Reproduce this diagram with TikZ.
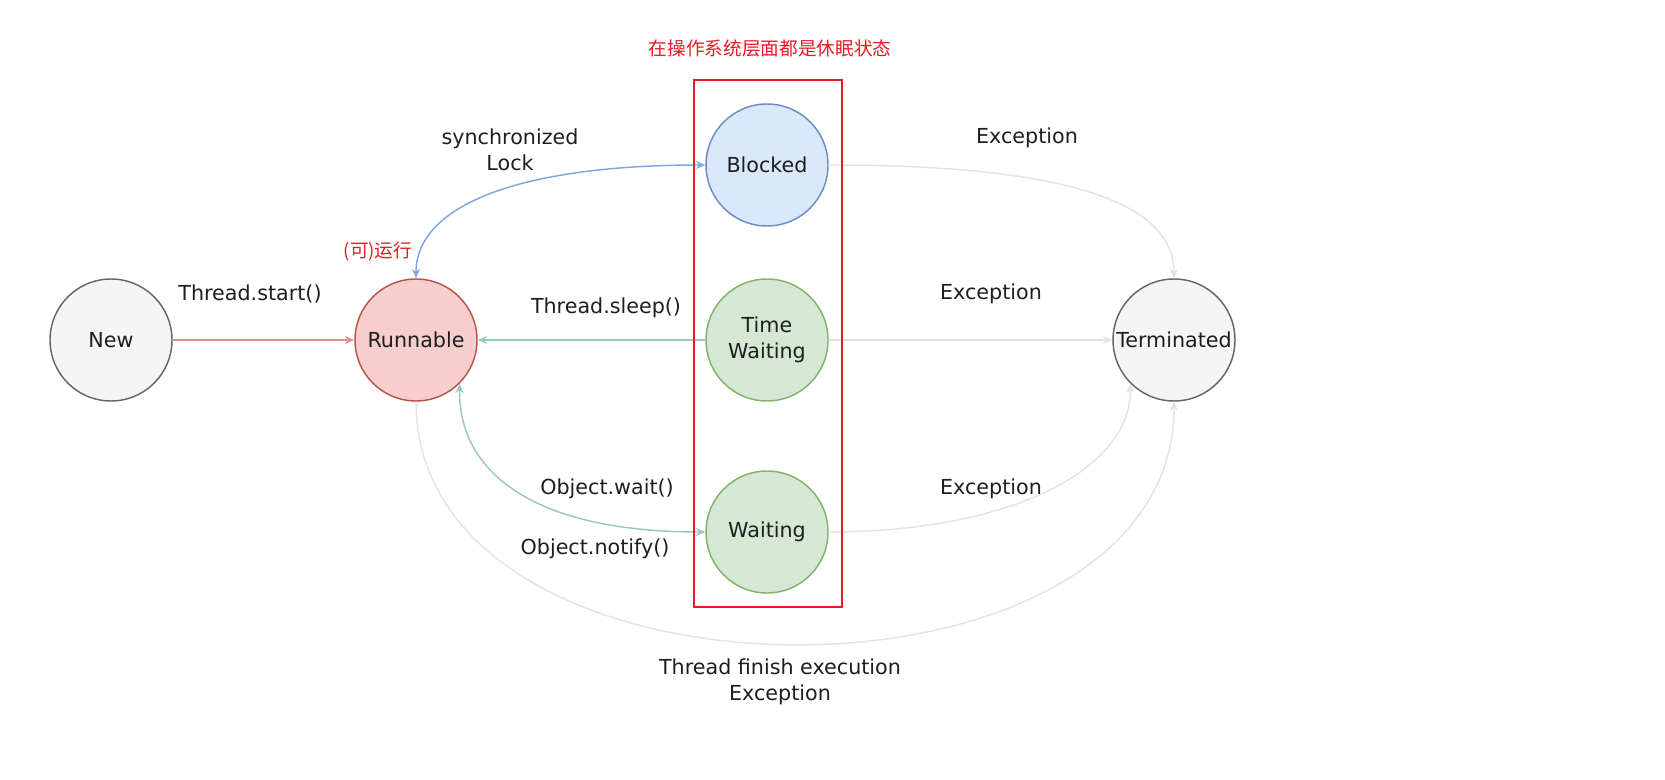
\documentclass[tikz,border=0pt]{standalone}
\usepackage{fontspec}
\setmainfont{DejaVu Sans}
\newfontfamily\cjk{Noto Sans CJK SC}
\usetikzlibrary{arrows.meta}
\definecolor{txt}{RGB}{30,30,30}
\definecolor{grayfill}{HTML}{F5F5F5}
\definecolor{graystroke}{HTML}{666666}
\definecolor{redfill}{HTML}{F8CECC}
\definecolor{redstroke}{HTML}{B85450}
\definecolor{bluefill}{HTML}{DAE8FC}
\definecolor{bluestroke}{HTML}{6C8EBF}
\definecolor{greenfill}{HTML}{D5E8D4}
\definecolor{greenstroke}{HTML}{82B366}
\definecolor{startline}{RGB}{236,140,140}
\definecolor{blueline}{HTML}{7EA6E0}
\definecolor{tealline}{HTML}{9AC7BF}
\definecolor{lightline}{HTML}{E3E3E3}
\definecolor{boxred}{RGB}{235,25,35}
\begin{document}
\begin{tikzpicture}[x=0.75pt,y=-0.75pt,
  font=\fontsize{15.5pt}{19.5pt}\selectfont, text=txt,
  state/.style={circle, minimum size=91.5pt, inner sep=0pt, line width=1.1pt},
  grayst/.style={state, draw=graystroke, fill=grayfill},
  redst/.style={state, draw=redstroke, fill=redfill},
  bluest/.style={state, draw=bluestroke, fill=bluefill},
  greenst/.style={state, draw=greenstroke, fill=greenfill},
  lbl/.style={align=center, inner sep=0pt},
  conn/.style={line width=1.1pt, -{Stealth[length=7pt,width=6pt]}},
  dconn/.style={line width=1.1pt, {Stealth[length=7pt,width=6pt]}-{Stealth[length=7pt,width=6pt]}},
  cjktext/.style={text=boxred, inner sep=0pt, font=\cjk\fontsize{14pt}{16pt}\selectfont}
]
\useasboundingbox (0,0) rectangle (1665,780);

% states
\node[grayst] (new) at (111,340) {};
\node[lbl] (newt) at (new.center) {New};
\node[redst] (run) at (416,340) {};
\node[lbl] (runt) at (run.center) {Runnable};
\node[bluest] (blk) at (767,165) {};
\node[lbl] (blkt) at (blk.center) {Blocked};
\node[greenst] (tw) at (767,340) {};
\node[lbl] (twt) at (tw.center) {Time\\Waiting};
\node[greenst] (wt) at (767,532) {};
\node[lbl] (wtt) at (wt.center) {Waiting};
\node[grayst] (term) at (1174,340) {};

% connectors
\draw[conn, startline] (new.east) -- (run.west);
\draw[dconn, blueline] (blk.west) .. controls (520,165) and (416,205) .. (run.north);
\draw[conn, tealline] (tw.west) -- (run.east);
\draw[dconn, tealline] (wt.west) .. controls (530,532) and (458,470) .. (run.-45);
\draw[conn, lightline] (blk.east) .. controls (1060,165) and (1174,200) .. (term.north);
\draw[conn, lightline] (tw.east) -- (term.west);
\draw[conn, lightline] (wt.east) .. controls (1010,532) and (1131,470) .. (term.-135);
\draw[conn, lightline] (run.south) .. controls (416,725) and (1174,725) .. (term.south);

\node[lbl] (termt) at (term.center) {Terminated};

% red frame and notes
\draw[boxred, line width=2.2pt] (694,80) rectangle (842,607);
\node[cjktext] (title) at (770,48) {在操作系统层面都是休眠状态};
\node[cjktext] (runnote) at (378,251) {(可)运行};

% labels
\node[lbl] (l1) at (250,294) {Thread.start()};
\node[lbl] (l2) at (510,150) {synchronized\\Lock};
\node[lbl] (l3) at (606,308) {Thread.sleep()};
\node[lbl] (l4) at (607,489) {Object.wait()};
\node[lbl] (l5) at (595,549) {Object.notify()};
\node[lbl] (l6) at (1027,138) {Exception};
\node[lbl] (l7) at (991,294) {Exception};
\node[lbl] (l8) at (991,489) {Exception};
\node[lbl] (l9) at (780,682) {Thread finish execution\\Exception};
\end{tikzpicture}
\end{document}
